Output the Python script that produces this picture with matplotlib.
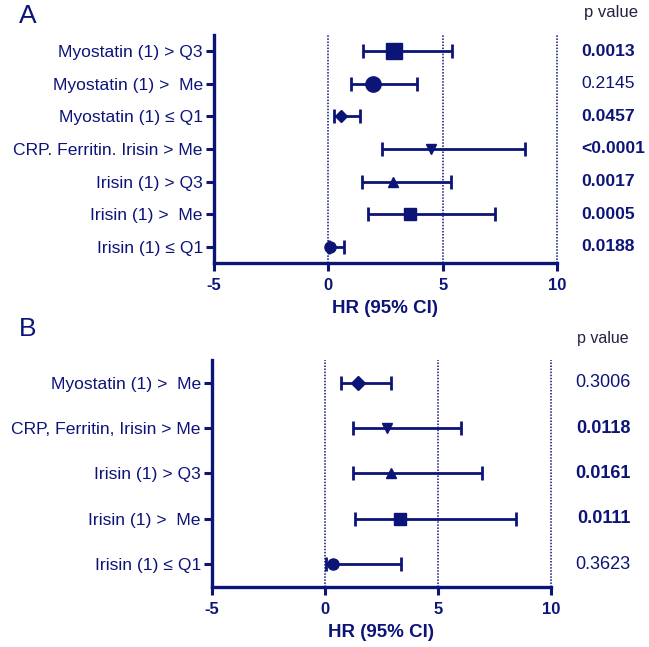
import numpy as np
import matplotlib
matplotlib.use('Agg')
import matplotlib.pyplot as plt

plt.rcParams['font.family'] = ['Liberation Sans', 'DejaVu Sans']
plt.rcParams['axes.unicode_minus'] = False

navy = '#0c1478'

# panel A
labels_a = ['Myostatin (1) > Q3', 'Myostatin (1) >  Me', 'Myostatin (1) \u2264 Q1',
            'CRP. Ferritin. Irisin > Me', 'Irisin (1) > Q3', 'Irisin (1) >  Me',
            'Irisin (1) \u2264 Q1']
hr_a = [2.85, 1.97, 0.55, 4.48, 2.81, 3.57, 0.07]
lo_a = [1.50, 0.99, 0.23, 2.34, 1.47, 1.72, 0.02]
hi_a = [5.40, 3.87, 1.37, 8.60, 5.37, 7.30, 0.69]
pval_a = ['0.0013', '0.2145', '0.0457', '<0.0001', '0.0017', '0.0005', '0.0188']
bold_a = [True, False, True, True, True, True, True]
mark_a = ['s', 'o', 'D', 'v', '^', 's', 'o']
msize_a = [12, 11, 6, 7, 7, 9, 8]

# panel B
labels_b = ['Myostatin (1) >  Me', 'CRP, Ferritin, Irisin > Me', 'Irisin (1) > Q3',
            'Irisin (1) >  Me', 'Irisin (1) \u2264 Q1']
hr_b = [1.47, 2.73, 2.91, 3.32, 0.35]
lo_b = [0.71, 1.25, 1.22, 1.32, 0.04]
hi_b = [2.91, 6.03, 6.96, 8.44, 3.35]
pval_b = ['0.3006', '0.0118', '0.0161', '0.0111', '0.3623']
bold_b = [False, True, True, True, False]
mark_b = ['D', 'v', '^', 's', 'o']
msize_b = [7, 7, 7, 8, 8]

W, H = 649, 647
fig = plt.figure(figsize=(W / 100, H / 100), dpi=100)


def px(x0, y0, x1, y1):
    return [x0 / W, 1 - y1 / H, (x1 - x0) / W, (y1 - y0) / H]


def forest(ax, labels, hr, lo, hi, marks, sizes):
    n = len(labels)
    ys = np.arange(n, 0, -1)
    for xv in [0, 5, 10]:
        ax.axvline(xv, color=navy, lw=1.1, ls=(0, (1, 1)), zorder=1, clip_on=False)
    for y, h, l, u, m, s in zip(ys, hr, lo, hi, marks, sizes):
        ax.errorbar(h, y, xerr=[[h - l], [u - h]], fmt=m, color=navy, ms=s,
                    elinewidth=2, capsize=5, capthick=2, zorder=3)
    ax.set_xlim(-5, 10)
    ax.set_ylim(0.5, n + 0.5)
    ax.set_xticks([-5, 0, 5, 10])
    ax.set_yticks(ys)
    ax.set_yticklabels(labels, fontsize=12.6, color=navy)
    for lab in ax.get_xticklabels():
        lab.set_fontweight('bold')
    ax.tick_params(axis='x', labelsize=12, colors=navy, width=2.2, length=6, pad=5)
    ax.tick_params(axis='y', colors=navy, width=2.2, length=6, pad=2)
    for sp in ['top', 'right']:
        ax.spines[sp].set_visible(False)
    for sp in ['left', 'bottom']:
        ax.spines[sp].set_color(navy)
        ax.spines[sp].set_linewidth(2.4)
    ax.set_xlabel('HR (95% CI)', fontsize=13.5, fontweight='bold', color=navy, labelpad=5)
    return ys


ax_a = fig.add_axes(px(214, 35, 557, 263))
ys_a = forest(ax_a, labels_a, hr_a, lo_a, hi_a, mark_a, msize_a)
ax_b = fig.add_axes(px(212, 360, 551, 587))
ys_b = forest(ax_b, labels_b, hr_b, lo_b, hi_b, mark_b, msize_b)

tr_a = ax_a.get_yaxis_transform()
for y, p, b in zip(ys_a, pval_a, bold_a):
    ax_a.text(1.07, y, p, transform=tr_a, ha='left', va='center', fontsize=12.6,
              fontweight='bold' if b else 'normal', color=navy, clip_on=False)
fig.text(584 / W, 1 - 13 / H, 'p value', ha='left', va='center', fontsize=12, color='#222244')

tr_b = ax_b.get_yaxis_transform()
for y, p, b in zip(ys_b, pval_b, bold_b):
    ax_b.text(1.235, y, p, transform=tr_b, ha='right', va='center', fontsize=13,
              fontweight='bold' if b else 'normal', color=navy, clip_on=False)
fig.text(577 / W, 1 - 338 / H, 'p value', ha='left', va='center', fontsize=11.5, color='#222244')

fig.text(28 / W, 1 - 16 / H, 'A', ha='center', va='center', fontsize=19, color=navy)
fig.text(28 / W, 1 - 329 / H, 'B', ha='center', va='center', fontsize=19, color=navy)

fig.savefig('out.png', dpi=100, facecolor='white')
